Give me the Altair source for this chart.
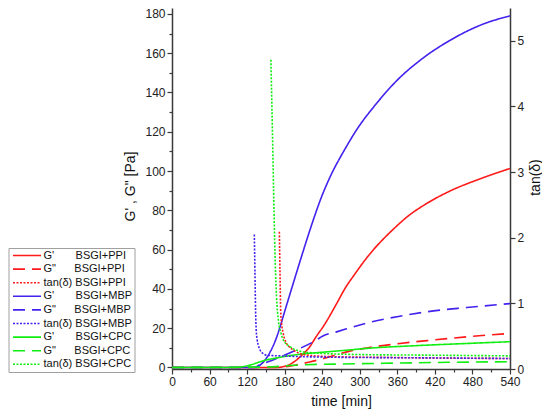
import altair as alt
import pandas as pd

NB = "\u00a0"

# ---- legend / series labels ----
series_labels = [
    "G'" + NB * 7 + "BSGI+PPI",
    'G"' + NB * 6 + "BSGI+PPI",
    "tan(δ) BSGI+PPI",
    "G'" + NB * 7 + "BSGI+MBP",
    'G"' + NB * 6 + "BSGI+MBP",
    "tan(δ) BSGI+MBP",
    "G'" + NB * 7 + "BSGI+CPC",
    'G"' + NB * 6 + "BSGI+CPC",
    "tan(δ) BSGI+CPC",
]
series_colors = ["#ff1a1a", "#ff1a1a", "#ff1a1a",
                 "#4422ee", "#4422ee", "#4422ee",
                 "#11ee11", "#11ee11", "#11ee11"]
series_dashes = [[1, 0], [12, 7], [2, 1.5]] * 3

# ---- G' / G'' data (left axis, Pa) ----
t_gp_ppi = [0, 120, 167, 183, 199, 210, 220, 231, 242, 263, 276, 292, 308, 322, 338, 354, 375, 407, 444, 492, 540]
v_gp_ppi = [0, 0, 0, 0.8, 3.8, 7, 10.5, 16, 21, 32.5, 40, 47.5, 54.5, 60, 65.5, 70.5, 76.5, 83.5, 89.8, 96, 101.3]

t_gpp_ppi = [0, 150, 179, 199, 220, 242, 263, 284, 311, 364, 418, 471, 540]
v_gpp_ppi = [0, 0, 0.3, 1.3, 2.8, 4.5, 6.5, 8.3, 9.9, 12.2, 14.0, 15.6, 17.3]

t_gp_mbp = [0, 120, 135, 140, 148, 157, 165, 172.5, 180.5, 191, 204.5, 220, 228, 236, 242, 250, 256, 263, 276, 295, 327, 359, 401, 444, 497, 540]
v_gp_mbp = [0, 0, 0, 1, 3.5, 8, 13.5, 20.5, 29, 40, 54, 69.6, 77.2, 84.4, 89.3, 95.2, 99.3, 103.6, 111, 121, 134.5, 146, 157.5, 166.5, 174.8, 179]

t_gpp_mbp = [0, 130, 140.6, 167, 199, 231, 241, 263, 311, 364, 418, 471, 540]
v_gpp_mbp = [0, 0, 1.3, 4.6, 8.9, 14, 16, 18.1, 22.6, 26.1, 28.8, 30.5, 32.5]

t_gp_cpc = [0, 100, 124.6, 140, 151, 170, 188, 210, 242, 280, 311, 391, 471, 540]
v_gp_cpc = [0, 0, 1.2, 2.8, 3.8, 5.0, 6.0, 6.9, 7.8, 8.8, 9.7, 11.1, 12.2, 13.1]

t_gpp_cpc = [0, 150, 204.5, 260, 337.6, 440, 540]
v_gpp_cpc = [0, 0.2, 1.3, 1.7, 2.1, 2.6, 2.9]

# ---- tan(delta) data (right axis) ----
t_tan_ppi = [171.5, 172.5, 173.6, 175, 177.5, 180.5, 186, 193.8, 210, 250, 350, 450, 540]
v_tan_ppi = [2.09, 1.5, 0.9, 0.7, 0.55, 0.44, 0.35, 0.29, 0.22, 0.19, 0.175, 0.165, 0.16]

t_tan_mbp = [131.5, 132.5, 133.5, 134.5, 136, 138, 140.6, 145, 151, 172.5, 250, 400, 540]
v_tan_mbp = [2.05, 1.5, 0.9, 0.6, 0.45, 0.36, 0.29, 0.24, 0.21, 0.2, 0.18, 0.17, 0.16]

t_tan_cpc = [158, 160.5, 163, 165, 167, 170, 174, 178, 188.5, 210, 236, 300, 420, 540]
v_tan_cpc = [4.71, 3.6, 2.4, 1.6, 1.1, 0.74, 0.55, 0.44, 0.34, 0.26, 0.24, 0.22, 0.21, 0.2]

# ---- tick values ----
x_ticks = list(range(0, 541, 30))
left_ticks = list(range(0, 181, 10))
right_ticks = [i * 0.5 for i in range(0, 12)]


def frame(t, v, label):
    return pd.DataFrame({"time": t, "value": v, "series": label})


df_g = pd.concat([
    frame(t_gp_ppi, v_gp_ppi, series_labels[0]),
    frame(t_gpp_ppi, v_gpp_ppi, series_labels[1]),
    frame(t_gp_mbp, v_gp_mbp, series_labels[3]),
    frame(t_gpp_mbp, v_gpp_mbp, series_labels[4]),
    frame(t_gp_cpc, v_gp_cpc, series_labels[6]),
    frame(t_gpp_cpc, v_gpp_cpc, series_labels[7]),
], ignore_index=True)

df_tan = pd.concat([
    frame(t_tan_ppi, v_tan_ppi, series_labels[2]),
    frame(t_tan_mbp, v_tan_mbp, series_labels[5]),
    frame(t_tan_cpc, v_tan_cpc, series_labels[8]),
], ignore_index=True)

FONT = "Liberation Sans"
AX_COLOR = "#3a3a3a"

legend = alt.Legend(
    title=None, orient="none", legendX=-163.5, legendY=240,
    symbolType="M-7,0H7", symbolSize=16, symbolStrokeWidth=1.6,
    symbolOffset=11, labelOffset=11, labelFont=FONT, labelFontSize=11,
    labelColor="#111111", rowPadding=1.6, padding=2,
    strokeColor="#a0a0a0", fillColor="white", labelLimit=300,
)

color_enc = alt.Color("series:N", scale=alt.Scale(domain=series_labels, range=series_colors), legend=legend)
dash_enc = alt.StrokeDash("series:N", scale=alt.Scale(domain=series_labels, range=series_dashes), legend=legend)

common_axis = dict(
    grid=False, domainColor=AX_COLOR, domainWidth=1.5, tickColor=AX_COLOR, tickWidth=1.2,
    labelFont=FONT, labelFontSize=12, labelColor="#222222", labelPadding=2,
    labelFlush=False, labelOverlap=False, format="d",
    titleFont=FONT, titleFontSize=14, titleFontWeight="normal", titleColor="#111111",
)

x_axis = alt.Axis(
    values=x_ticks, title="time [min]",
    tickSize={"condition": {"test": "datum.value % 60 !== 0", "value": 3}, "value": 5},
    labelExpr="datum.value % 60 === 0 ? datum.label : ''",
    titleX=169, titleY=32, titleAlign="center", titleBaseline="middle",
    **common_axis,
)

left_axis = alt.Axis(
    values=left_ticks, title='G\' , G" [Pa]',
    tickSize={"condition": {"test": "datum.value % 20 !== 0", "value": 3}, "value": 5},
    labelExpr="datum.value % 20 === 0 ? datum.label : ''",
    titleAngle=270, titleX=-42, titleY=178, titleAlign="center", titleBaseline="middle",
    **common_axis,
)

right_axis = alt.Axis(
    orient="right", values=right_ticks, title="tan(δ)",
    tickSize={"condition": {"test": "datum.value % 1 !== 0", "value": 3}, "value": 5},
    labelExpr="datum.value % 1 === 0 ? datum.label : ''",
    titleAngle=270, titleX=25, titleY=169, titleAlign="center", titleBaseline="middle",
    **common_axis,
)

x_enc = alt.X("time:Q", scale=alt.Scale(domain=[0, 540], nice=False, zero=False), axis=x_axis)

left_layer = alt.Chart(df_g).mark_line(strokeWidth=1.6, interpolate="monotone").encode(
    x=x_enc,
    y=alt.Y("value:Q", scale=alt.Scale(domain=[-0.8, 183], nice=False, zero=False), axis=left_axis),
    color=color_enc,
    strokeDash=dash_enc,
)

right_layer = alt.Chart(df_tan).mark_line(strokeWidth=1.6, interpolate="monotone").encode(
    x=x_enc,
    y=alt.Y("value:Q", scale=alt.Scale(domain=[0, 5.5], nice=False, zero=False), axis=right_axis),
    color=color_enc,
    strokeDash=dash_enc,
)

chart = alt.layer(left_layer, right_layer).resolve_scale(
    y="independent"
).properties(
    width=338, height=361,
    autosize=alt.AutoSizeParams(type="none"),
    padding={"left": 164, "top": 0, "right": 32, "bottom": 42},
).configure(font=FONT).configure_view(stroke=None)

chart.save("out.html", embed_options={"renderer": "svg", "actions": False})
